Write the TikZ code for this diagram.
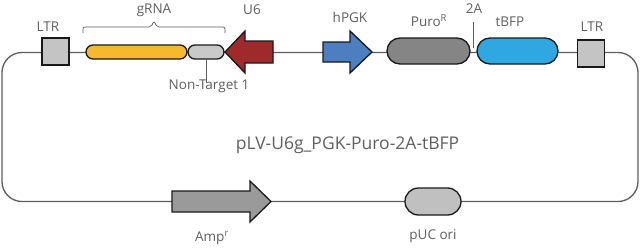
\documentclass[tikz,border=0pt]{standalone}
\usepackage{fontspec}
\setmainfont{Open Sans}
\definecolor{txtgray}{HTML}{5F5F5F}
\definecolor{linegray}{HTML}{5E5E5E}
\definecolor{yellowc}{HTML}{F5B82E}
\definecolor{ntgray}{HTML}{C9C9C9}
\definecolor{u6red}{HTML}{9E2A2B}
\definecolor{pgkblue}{HTML}{4D7EBF}
\definecolor{purogray}{HTML}{858585}
\definecolor{tbfpblue}{HTML}{2FA8E1}
\definecolor{ltrgray}{HTML}{C4C4C4}
\definecolor{ampgray}{HTML}{9A9A9A}
\definecolor{pucgray}{HTML}{C0C0C0}
\begin{document}
\begin{tikzpicture}[x=1pt,y=-1pt,
  outl/.style={draw=black!90, line width=1.3pt},
  lbl/.style={text=txtgray, font=\fontsize{13.5}{15}\selectfont, inner sep=0pt},
  pill/.style={outl, rounded corners=#1, inner sep=0pt, outer sep=0pt},
  ltrbox/.style={outl, fill=ltrgray, minimum width=27pt, minimum height=27pt, inner sep=0pt, outer sep=0pt},
  thinline/.style={draw=linegray, line width=0.7pt},
  backbone/.style={draw=linegray, line width=1.3pt}
]
\useasboundingbox (0,0) rectangle (640,249);
% backbone loop
\draw[backbone, rounded corners=20pt] (2,52.5) rectangle (638,201.5);

% LTR boxes
\node[ltrbox] (ltrL) at (55.5,51.5) {};
\node[ltrbox] (ltrR) at (591,53.5) {};
\node[lbl] (ltrLl) at (48,27) {LTR};
\node[lbl] (ltrRl) at (592,27) {LTR};

% gRNA
\node[pill=7pt, fill=yellowc, minimum width=101pt, minimum height=14pt] (grna) at (136.5,52) {};
\node[pill=7pt, fill=ntgray, minimum width=36pt, minimum height=14pt] (nt) at (206,52) {};
\node[lbl] (grnal) at (154,10) {gRNA};
\draw[thinline, rounded corners=2pt] (83,33) -- (83,27) -- (151,27) -- (154,21) -- (157,27) -- (225,27) -- (225,33);
\node[lbl] (ntl) at (209,86) {Non-Target 1};
\draw[thinline] ([yshift=1pt]nt.south) -- ([yshift=-4pt]nt.south |- ntl.north);

% U6 arrow (pointing left)
\draw[outl, fill=u6red] (225,52) -- (245,31) -- (245,41) -- (273,41) -- (273,63) -- (245,63) -- (245,73) -- cycle;
\coordinate (u6) at (249,52);
\node[lbl] (u6l) at (252,10) {U6};

% hPGK arrow
\draw[outl, fill=pgkblue] (323,42) -- (350,42) -- (350,31) -- (372,52) -- (350,73) -- (350,62) -- (323,62) -- cycle;
\node[lbl] (pgkl) at (350,17) {hPGK};

% Puro and tBFP
\node[pill=13pt, fill=purogray, minimum width=83pt, minimum height=26pt] (puro) at (428.5,51) {};
\node[pill=13pt, fill=tbfpblue, minimum width=81pt, minimum height=26pt] (tbfp) at (517.5,51) {};
\node[lbl] (purol) at (429,21) {Puro\textsuperscript{R}};
\node[lbl] (tbfpl) at (510,22) {tBFP};
\node[lbl] (twoal) at (474,9) {2A};
\draw[thinline] (473,22) -- (473,48);

% title
\node[text=txtgray, font=\fontsize{17.5}{20}\selectfont, inner sep=0pt] (title) at (347.5,145) {pLV-U6g\_PGK-Puro-2A-tBFP};

% Amp arrow
\draw[outl, fill=ampgray] (172,191) -- (250,191) -- (250,181) -- (271,201.5) -- (250,222) -- (250,212) -- (172,212) -- cycle;
\node[lbl] (ampl) at (212,238) {Amp\textsuperscript{r}};

% pUC ori
\node[pill=13.5pt, fill=pucgray, minimum width=56pt, minimum height=27pt] (puc) at (433,201.5) {};
\node[lbl] (pucl) at (433,236) {pUC ori};
\end{tikzpicture}
\end{document}
